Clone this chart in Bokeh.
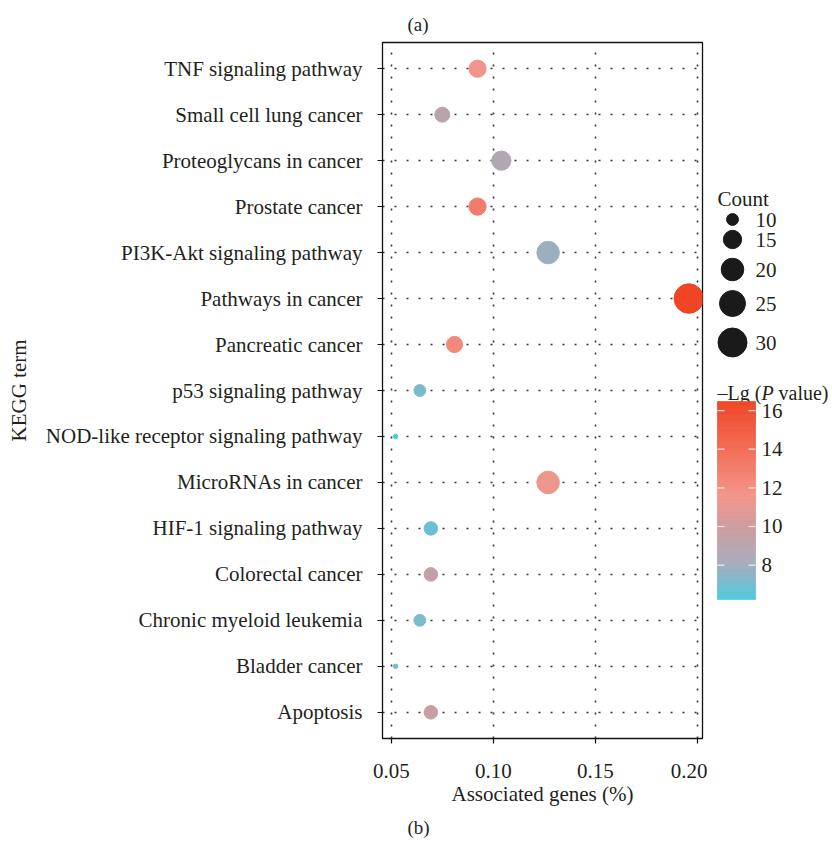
import numpy as np
from bokeh.plotting import figure
from bokeh.models import Range1d, FixedTicker, ColumnDataSource, LinearColorMapper, Title
from bokeh.layouts import row
from bokeh.transform import transform
from bokeh.core.properties import value
from bokeh.embed import file_html
from bokeh.resources import INLINE

# ---------------- data (bottom -> top) ----------------
terms = ["Apoptosis", "Bladder cancer", "Chronic myeloid leukemia", "Colorectal cancer",
         "HIF-1 signaling pathway", "MicroRNAs in cancer", "NOD-like receptor signaling pathway",
         "p53 signaling pathway", "Pancreatic cancer", "Pathways in cancer",
         "PI3K-Akt signaling pathway", "Prostate cancer", "Proteoglycans in cancer",
         "Small cell lung cancer", "TNF signaling pathway"]
ratio = [0.0693, 0.0520, 0.0639, 0.0693, 0.0693, 0.1268, 0.0520, 0.0639, 0.0809, 0.1958,
         0.1268, 0.0922, 0.1039, 0.0749, 0.0922]
count = [11, 8, 10, 11, 11, 20, 8, 10, 13, 31, 20, 14, 16, 12, 14]
neglogp = [9.7, 7.2, 7.2, 9.5, 6.8, 11.3, 6.22, 7.2, 12.3, 16.47, 7.9, 13.0, 8.7, 9.1, 11.5]

x_ticks = [0.05, 0.10, 0.15, 0.20]
x_tick_labels = ["0.05", "0.10", "0.15", "0.20"]
legend_counts = [10, 15, 20, 25, 30]
cbar_ticks = [8, 10, 12, 14, 16]

FONT_NAME = "Liberation Serif"
FONT = value(FONT_NAME)
TXT = "#231f20"

# ---------------- scales ----------------
cmin, cmax = min(count), max(count)
def size_of(c):
    return 4.5 + 25.0 * np.sqrt((np.asarray(c, dtype=float) - cmin) / (cmax - cmin))

low, high = min(neglogp), max(neglogp)
anchor_v = [low, 8.0, 10.0, 11.6, 14.0, high]
anchor_c = ["#4fc9de", "#a2adbd", "#ce9c9e", "#f3948a", "#f26c55", "#ef4524"]
def hex2rgb(h):
    return [int(h[i:i + 2], 16) for i in (1, 3, 5)]
rgb = np.array([hex2rgb(c) for c in anchor_c], dtype=float)
levels = np.linspace(low, high, 256)
palette = []
for v in levels:
    r = np.interp(v, anchor_v, rgb[:, 0]); g = np.interp(v, anchor_v, rgb[:, 1]); b = np.interp(v, anchor_v, rgb[:, 2])
    palette.append("#%02x%02x%02x" % (int(round(r)), int(round(g)), int(round(b))))
mapper = LinearColorMapper(palette=palette, low=low, high=high)

ypos = list(range(1, len(terms) + 1))
src = ColumnDataSource(dict(term=terms, ratio=ratio, y=ypos, count=count,
                            size=list(size_of(count)), p=neglogp))

# ---------------- main figure ----------------
W_MAIN, H = 707, 846
p = figure(width=W_MAIN, height=H, x_range=Range1d(0.0456, 0.2025), y_range=Range1d(0.43, 15.57),
           output_backend="svg", toolbar_location=None,
           min_border_left=382, min_border_right=5, min_border_top=42, min_border_bottom=108)
p.background_fill_color = "white"
p.border_fill_color = "white"
p.outline_line_color = "#111111"
p.outline_line_width = 1.3

p.xaxis.ticker = FixedTicker(ticks=x_ticks)
p.xaxis.major_label_overrides = {t: l for t, l in zip(x_ticks, x_tick_labels)}
p.yaxis.ticker = FixedTicker(ticks=ypos)
p.yaxis.major_label_overrides = {i: t for i, t in zip(ypos, terms)}
p.xaxis.axis_label = "Associated genes (%)"
p.yaxis.axis_label = "KEGG term"
for ax in (p.xaxis, p.yaxis):
    ax.axis_line_color = None
    ax.major_tick_line_color = "#111111"
    ax.major_tick_line_width = 1.2
    ax.major_tick_out = 5
    ax.major_tick_in = 0
    ax.minor_tick_line_color = None
    ax.major_label_text_font = FONT_NAME
    ax.major_label_text_font_size = "21px"
    ax.major_label_text_color = TXT
    ax.axis_label_text_font = FONT_NAME
    ax.axis_label_text_font_size = "21px"
    ax.axis_label_text_font_style = "normal"
    ax.axis_label_text_color = TXT
p.xaxis.major_label_standoff = 20
p.xaxis.axis_label_standoff = 1
p.yaxis.major_label_standoff = 15
p.yaxis.axis_label_standoff = 12

for g in (p.xgrid, p.ygrid):
    g.grid_line_color = "#333333"
    g.grid_line_width = 1.6
    g.grid_line_dash = "2 10"
p.xgrid.ticker = FixedTicker(ticks=x_ticks)

p.scatter(x="ratio", y="y", size="size", source=src,
          fill_color=transform("p", mapper), line_color=transform("p", mapper), line_width=1)

p.add_layout(Title(text="(a)", align="left", offset=25, standoff=12, vertical_align="top",
                   text_font=FONT_NAME, text_font_size="19px",
                   text_font_style="normal", text_color=TXT), "above")
p.add_layout(Title(text="(b)", align="left", offset=25, standoff=12,
                   text_font=FONT_NAME, text_font_size="19px",
                   text_font_style="normal", text_color=TXT), "below")

# ---------------- legend figure (coordinates = page pixels) ----------------
L = figure(width=832 - W_MAIN, height=H, x_range=Range1d(W_MAIN, 832), y_range=Range1d(738, 42),
           output_backend="svg", toolbar_location=None,
           min_border_left=0, min_border_right=0, min_border_top=42, min_border_bottom=108)
L.axis.visible = False
L.grid.visible = False
L.outline_line_color = None
L.background_fill_color = "white"
L.border_fill_color = "white"

L.text(x=[717], y=[198], text=["Count"], text_font=FONT, text_font_size="21px",
       text_color=TXT, text_baseline="alphabetic", text_align="left")
leg_y = [219, 239, 269, 303, 342]
L.scatter(x=[732] * len(legend_counts), y=leg_y, size=list(size_of(legend_counts)),
          fill_color="#1a1a1a", line_color="#1a1a1a", line_width=1)
L.text(x=[755] * len(legend_counts), y=leg_y, text=[str(c) for c in legend_counts],
       text_font=FONT, text_font_size="21px", text_color=TXT, text_baseline="middle", text_align="left")

# colour bar title with italic P
L.text(x=[717], y=[392], text=["\u2013Lg ("], text_font=FONT, text_font_size="20px",
       text_color=TXT, text_baseline="alphabetic")
L.text(x=[761], y=[392], text=["P"], text_font=FONT, text_font_size="20px", text_font_style="italic",
       text_color=TXT, text_baseline="alphabetic")
L.text(x=[778], y=[392], text=["value)"], text_font=FONT, text_font_size="20px",
       text_color=TXT, text_baseline="alphabetic")

# colour bar (gradient)
bar_l, bar_r, bar_t, bar_b = 717, 755, 401, 599
def ymap(v):
    return bar_t + (high - np.asarray(v, dtype=float)) / (high - low) * (bar_b - bar_t)
edges = np.linspace(low, high, len(palette) + 1)
L.quad(left=bar_l, right=bar_r, top=list(ymap(edges[1:])), bottom=list(ymap(edges[:-1])),
       fill_color=palette, line_color=palette, line_width=0.6)
ty = list(ymap(cbar_ticks))
L.segment(x0=[bar_l] * len(ty), x1=[bar_l + 7] * len(ty), y0=ty, y1=ty, line_color="white", line_width=1.2, line_alpha=0.8)
L.segment(x0=[bar_r - 7] * len(ty), x1=[bar_r] * len(ty), y0=ty, y1=ty, line_color="white", line_width=1.2, line_alpha=0.8)
L.text(x=[bar_r + 6] * len(ty), y=ty, text=[str(t) for t in cbar_ticks], text_font=FONT,
       text_font_size="21px", text_color=TXT, text_baseline="middle", text_align="left")

layout = row(p, L)
open("out.html", "w").write(file_html(layout, INLINE))
